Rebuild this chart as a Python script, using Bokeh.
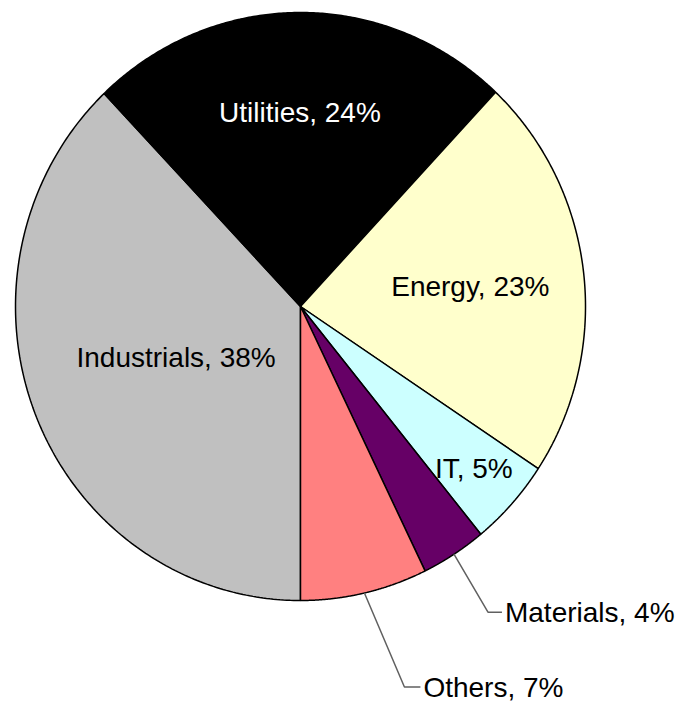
import numpy as np
from bokeh.plotting import figure
from bokeh.models import Range1d, ColumnDataSource
from bokeh.core.properties import value
from bokeh.embed import file_html
from bokeh.resources import INLINE

# ---- data (series order as in the chart, clockwise from the bottom) ----
sectors = ["Industrials", "Utilities", "Energy", "IT", "Materials", "Others"]
shares = [37.9, 24.1, 22.3, 4.8, 3.7, 7.2]
labels = ["Industrials, 38%", "Utilities, 24%", "Energy, 23%", "IT, 5%", "Materials, 4%", "Others, 7%"]
colors = ["#C0C0C0", "#000000", "#FFFFCC", "#CCFFFF", "#660066", "#FF8080"]
text_colors = ["black", "white", "black", "black", "black", "black"]

# ---- layout (styling) ----
W, H = 683, 707
CX, CY, RX, RY = 300.0, 306.0, 285.0, 294.0
FIRST_ANGLE = 180.0  # degrees, clockwise from 12 o'clock
label_frac = [0.47, 0.66, 0.6, 0.82, None, None]
outside = {4: (34, 58, 14), 5: (40, 94, 16)}  # slice: (elbow dx, elbow dy, horizontal len)

p = figure(width=W, height=H, output_backend="svg", toolbar_location=None,
           x_range=Range1d(0, W), y_range=Range1d(H, 0),
           min_border=0, outline_line_color=None, background_fill_color="white")
p.axis.visible = False
p.grid.visible = False

total = sum(shares)
angles = np.cumsum([0] + shares) / total * 360.0 + FIRST_ANGLE

def pt(theta_deg, fr=1.0):
    t = np.radians(theta_deg)
    return CX + fr * RX * np.sin(t), CY - fr * RY * np.cos(t)

xs, ys = [], []
for i in range(len(shares)):
    th = np.linspace(angles[i], angles[i + 1], 200)
    ex, ey = pt(th)
    xs.append([CX] + list(ex) + [CX])
    ys.append([CY] + list(ey) + [CY])

src = ColumnDataSource(dict(xs=xs, ys=ys, color=colors, name=sectors))
p.patches("xs", "ys", source=src, fill_color="color", line_color="black", line_width=1.5)

tx, ty, tt, tc, align = [], [], [], [], []
for i in range(len(shares)):
    mid = (angles[i] + angles[i + 1]) / 2
    if label_frac[i] is not None:
        x, y = pt(mid, label_frac[i])
        tx.append(x); ty.append(y); tt.append(labels[i]); tc.append(text_colors[i]); align.append("center")
    else:
        sx, sy = pt(mid)
        dx, dy, hl = outside[i]
        ex_, ey_ = sx + dx, sy + dy
        p.line([sx, ex_, ex_ + hl], [sy, ey_, ey_], line_color="#606060", line_width=1.5)
        tx.append(ex_ + hl + 3); ty.append(ey_); tt.append(labels[i]); tc.append(text_colors[i]); align.append("left")

lsrc = ColumnDataSource(dict(x=tx, y=ty, t=tt, c=tc, a=align))
p.text("x", "y", text="t", source=lsrc, text_color="c", text_align="a",
       text_baseline="middle", text_font=value("Liberation Sans"), text_font_size="28px")

open("out.html", "w").write(file_html(p, INLINE))
